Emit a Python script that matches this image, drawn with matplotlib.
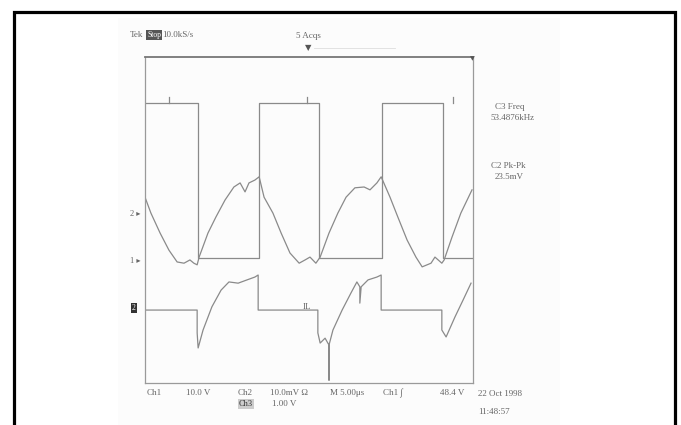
import matplotlib
matplotlib.use("Agg")
import matplotlib.pyplot as plt
from matplotlib.patches import Rectangle
from matplotlib.lines import Line2D

# ---- data (screen divisions: x 0-10, y 0-8) ----
ch1_t = [0.00, 0.18, 0.46, 0.73, 0.98, 1.19, 1.37, 1.49, 1.59, 1.65, 1.92, 2.16, 2.44, 2.71,
         2.90, 3.05, 3.17, 3.35, 3.48, 3.63, 3.90, 4.15, 4.42, 4.70, 4.88, 5.03, 5.21, 5.34,
         5.61, 5.88, 6.13, 6.40, 6.68, 6.86, 7.07, 7.20, 7.47, 7.71, 7.99, 8.26, 8.45, 8.72,
         8.84, 9.05, 9.12, 9.36, 9.63, 9.97]
ch1_v = [4.56, 4.17, 3.68, 3.26, 2.97, 2.94, 3.02, 2.94, 2.90, 3.09, 3.68, 4.07, 4.49, 4.81,
         4.91, 4.69, 4.91, 4.98, 5.06, 4.56, 4.17, 3.68, 3.19, 2.94, 3.02, 3.09, 2.94, 3.09,
         3.68, 4.17, 4.56, 4.79, 4.81, 4.74, 4.91, 5.06, 4.56, 4.07, 3.51, 3.09, 2.85, 2.94,
         3.09, 2.94, 3.02, 3.58, 4.17, 4.74]

ch3_edges = [0.0, 1.62, 3.48, 5.30, 7.23, 9.09, 10.0]
ch3_levels = [6.87, 3.07, 6.87, 3.07, 6.87, 3.07]
ch3_marks = [0.73, 4.94, 9.39]

ch2_t = [0.00, 1.59, 1.59, 1.62, 1.77, 2.04, 2.32, 2.56, 2.84, 3.11, 3.35, 3.45, 3.45, 5.27,
         5.27, 5.34, 5.49, 5.61, 5.61, 5.61, 5.73, 6.01, 6.28, 6.46, 6.55, 6.55, 6.59, 6.80,
         7.07, 7.20, 7.20, 9.05, 9.05, 9.18, 9.45, 9.70, 9.94]
ch2_v = [1.79, 1.79, 1.23, 0.86, 1.30, 1.87, 2.28, 2.48, 2.45, 2.53, 2.60, 2.65, 1.79, 1.79,
         1.23, 0.98, 1.10, 0.93, 0.07, 0.93, 1.30, 1.79, 2.21, 2.48, 2.36, 1.96, 2.36, 2.53,
         2.60, 2.65, 1.79, 1.79, 1.30, 1.13, 1.62, 2.04, 2.45]

W, H = 681, 425
def fx(x): return x / W
def fy(y): return 1 - y / H

fig = plt.figure(figsize=(W / 100, H / 100), dpi=100)
fig.patch.set_facecolor("white")

# faint scan background
fig.add_artist(Rectangle((fx(118), fy(425)), (560 - 118) / W, (425 - 18) / H,
                         transform=fig.transFigure, facecolor="#fcfcfc", edgecolor="none", zorder=0))
# outer black frame
fig.add_artist(Line2D([fx(13.5), fx(13.5), fx(675), fx(675)], [fy(440), fy(11.5), fy(11.5), fy(440)],
                      transform=fig.transFigure, color="black", lw=2.3, solid_joinstyle="miter"))

ax = fig.add_axes([fx(145), fy(383), (473 - 145) / W, (383 - 57) / H])
ax.set_xlim(0, 10)
ax.set_ylim(0, 8)
ax.set_xticks([])
ax.set_yticks([])
ax.patch.set_alpha(0)
for s in ax.spines.values():
    s.set_color("#9a9a9a")
    s.set_linewidth(0.9)
ax.spines["top"].set_color("#777777")
ax.spines["top"].set_linewidth(1.3)

trace = dict(color="#8a8a8a", lw=0.9)
ax.plot(ch1_t, ch1_v, **trace)
ax.step(ch3_edges, ch3_levels + [ch3_levels[-1]], where="post", **trace)
for m in ch3_marks:
    ax.plot([m, m], [ch3_levels[0], ch3_levels[0] + 0.15], **trace)
ax.plot(ch2_t, ch2_v, **trace)

tc = "#666666"
fam = ["Liberation Serif", "DejaVu Sans"]
font = dict(family=fam, color=tc)

# header
fig.text(fx(130), fy(35), "Tek", fontsize=6.5, va="center", ha="left", **font)
fig.text(fx(147), fy(35), "Stop", fontsize=5.5, va="center", ha="left", family=fam,
         color="white", bbox=dict(facecolor="#555555", edgecolor="none", pad=0.8))
fig.text(fx(162), fy(35), "10.0kS/s", fontsize=6.5, va="center", ha="left", **font)
fig.text(fx(308), fy(36), "5 Acqs", fontsize=6.5, va="center", ha="center", **font)
fig.text(fx(308), fy(48), "▼", fontsize=6, va="center", ha="center", color="#555555")
fig.add_artist(Line2D([fx(314), fx(395)], [fy(48), fy(48)], transform=fig.transFigure,
                      color="#dddddd", lw=0.6))
fig.text(fx(472), fy(59), "▼", fontsize=4.5, va="center", ha="center", color="#555555")

# channel markers
fig.text(fx(141), fy(214), "2 ▸", fontsize=6, va="center", ha="right", **font)
fig.text(fx(141), fy(261), "1 ▸", fontsize=6, va="center", ha="right", **font)
fig.text(fx(136), fy(308), "2", fontsize=5.5, va="center", ha="right", family=fam,
         color="white", bbox=dict(facecolor="#333333", edgecolor="none", pad=1.0))
fig.text(fx(307), fy(307), "IL", fontsize=6.5, va="center", ha="center", **font)

# measurements
fig.text(fx(510), fy(107), "C3 Freq", fontsize=6.5, va="center", ha="center", **font)
fig.text(fx(512), fy(118), "53.4876kHz", fontsize=6.5, va="center", ha="center", **font)
fig.text(fx(508), fy(166), "C2 Pk-Pk", fontsize=6.5, va="center", ha="center", **font)
fig.text(fx(509), fy(177), "23.5mV", fontsize=6.5, va="center", ha="center", **font)

# bottom status
row1 = fy(393)
fig.text(fx(147), row1, "Ch1", fontsize=6.5, va="center", ha="left", **font)
fig.text(fx(186), row1, "10.0 V", fontsize=6.5, va="center", ha="left", **font)
fig.text(fx(238), row1, "Ch2", fontsize=6.5, va="center", ha="left", **font)
fig.text(fx(270), row1, "10.0mV Ω", fontsize=6.5, va="center", ha="left", **font)
fig.text(fx(330), row1, "M 5.00μs", fontsize=6.5, va="center", ha="left", **font)
fig.text(fx(383), row1, "Ch1 ∫", fontsize=6.5, va="center", ha="left", **font)
fig.text(fx(440), row1, "48.4 V", fontsize=6.5, va="center", ha="left", **font)
fig.text(fx(239), fy(404), "Ch3", fontsize=6, va="center", ha="left", family=fam,
         color="#333333", bbox=dict(facecolor="#cccccc", edgecolor="none", pad=0.6))
fig.text(fx(272), fy(404), "1.00 V", fontsize=6.5, va="center", ha="left", **font)
fig.text(fx(478), fy(394), "22 Oct 1998", fontsize=6.5, va="center", ha="left", **font)
fig.text(fx(478), fy(412), "11:48:57", fontsize=6.5, va="center", ha="left", **font)

fig.savefig("out.png", dpi=100)
